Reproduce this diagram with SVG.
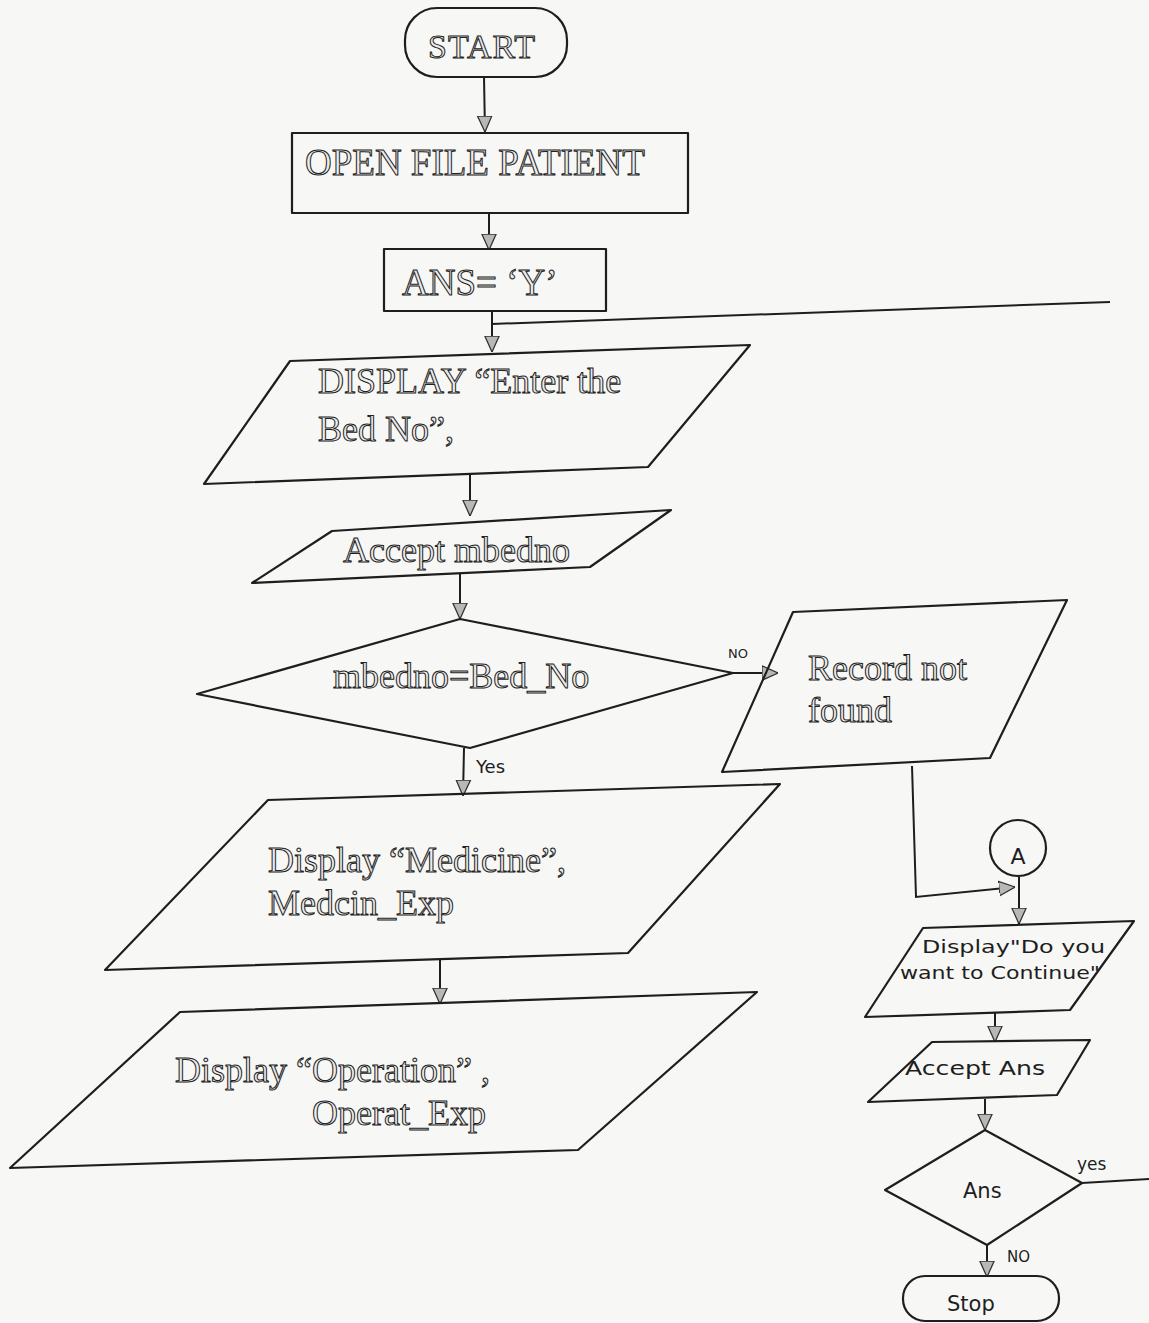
<svg xmlns="http://www.w3.org/2000/svg" width="1149" height="1323" viewBox="0 0 1149 1323">
<style>
.s{fill:none;stroke:#1e1e1e;stroke-width:2.2;stroke-linejoin:round}
.c{fill:none;stroke:#1e1e1e;stroke-width:2}
.t{font-family:"Liberation Serif","Times New Roman",serif;fill:#ececec;stroke:#222;stroke-width:1}
.h{font-family:"DejaVu Sans","Liberation Sans",sans-serif;fill:#1e1e1e}
</style>
<defs>
<marker id="ar" viewBox="0 0 10 10" refX="10" refY="5" markerUnits="userSpaceOnUse" markerWidth="16" markerHeight="18" orient="auto">
<path d="M0,0.5 L10,5 L0,9.5 Z" fill="#b8b8b8" stroke="#333" stroke-width="0.8"/>
</marker>
</defs>
<rect width="1149" height="1323" fill="#f7f7f5"/>
<g id="connectors">
<line class="c" x1="484" y1="77" x2="485" y2="132" marker-end="url(#ar)"/>
<line class="c" x1="489" y1="212" x2="489" y2="250" marker-end="url(#ar)"/>
<line class="c" x1="492" y1="311" x2="492" y2="352" marker-end="url(#ar)"/>
<line class="c" x1="492" y1="324" x2="1110" y2="302"/>
<line class="c" x1="470" y1="474" x2="470" y2="516" marker-end="url(#ar)"/>
<line class="c" x1="460" y1="573" x2="460" y2="619" marker-end="url(#ar)"/>
<line class="c" x1="464" y1="748" x2="463" y2="796" marker-end="url(#ar)"/>
<line class="c" x1="733" y1="673" x2="778" y2="673" marker-end="url(#ar)"/>
<line class="c" x1="440" y1="959" x2="440" y2="1004" marker-end="url(#ar)"/>
<polyline class="c" points="912,766 916,897 1015,887" marker-end="url(#ar)"/>
<line class="c" x1="1019" y1="877" x2="1019" y2="924" marker-end="url(#ar)"/>
<line class="c" x1="995" y1="1012" x2="995" y2="1042" marker-end="url(#ar)"/>
<line class="c" x1="985" y1="1099" x2="985" y2="1130" marker-end="url(#ar)"/>
<line class="c" x1="1082" y1="1183" x2="1149" y2="1179"/>
<line class="c" x1="987" y1="1245" x2="987" y2="1277" marker-end="url(#ar)"/>
<text class="h" x="476" y="773" font-size="18">Yes</text>
<text class="h" x="728" y="658" font-size="13">NO</text>
<text class="h" x="1077" y="1170" font-size="17">yes</text>
<text class="h" x="1007" y="1262" font-size="15">NO</text>
</g>
<g id="start">
<rect class="s" x="405" y="8" width="162" height="69" rx="32"/>
<text class="t" x="428" y="58" font-size="34" letter-spacing="1">START</text>
</g>
<g id="open-file">
<rect class="s" x="292" y="133" width="396" height="80"/>
<text class="t" x="305" y="175" font-size="37">OPEN FILE PATIENT</text>
</g>
<g id="ans-init">
<rect class="s" x="384" y="249" width="222" height="62"/>
<text class="t" x="402" y="295" font-size="37">ANS= ‘Y’</text>
</g>
<g id="display-bed">
<polygon class="s" points="290,361 750,345 648,467 204,484"/>
<text class="t" x="318" y="393" font-size="36">DISPLAY “Enter the</text>
<text class="t" x="318" y="441" font-size="36">Bed No”,</text>
</g>
<g id="accept-bed">
<polygon class="s" points="332,531 671,510 590,567 252,583"/>
<text class="t" x="343" y="562" font-size="36">Accept mbedno</text>
</g>
<g id="decision-bed">
<polygon class="s" points="460,619 733,673 470,748 197,694"/>
<text class="t" x="333" y="688" font-size="36">mbedno=Bed_No</text>
</g>
<g id="record-not-found">
<polygon class="s" points="793,612 1067,600 990,758 722,772"/>
<text class="t" x="808" y="680" font-size="36">Record not</text>
<text class="t" x="808" y="722" font-size="36">found</text>
</g>
<g id="display-medicine">
<polygon class="s" points="268,800 780,784 628,953 105,970"/>
<text class="t" x="268" y="872" font-size="36">Display “Medicine”,</text>
<text class="t" x="268" y="915" font-size="36">Medcin_Exp</text>
</g>
<g id="display-operation">
<polygon class="s" points="180,1012 757,992 578,1150 10,1168"/>
<text class="t" x="175" y="1082" font-size="36">Display “Operation” ,</text>
<text class="t" x="312" y="1125" font-size="36">Operat_Exp</text>
</g>
<g id="connector-a">
<circle class="s" cx="1018" cy="848" r="28"/>
<text class="h" x="1018" y="864" font-size="22" text-anchor="middle">A</text>
</g>
<g id="display-continue">
<polygon class="s" points="923,928 1134,921 1070,1010 865,1017"/>
<text class="h" x="922" y="953" font-size="18" textLength="183" lengthAdjust="spacingAndGlyphs">Display"Do you</text>
<text class="h" x="900" y="979" font-size="18" textLength="200" lengthAdjust="spacingAndGlyphs">want to Continue"</text>
</g>
<g id="accept-ans">
<polygon class="s" points="932,1042 1090,1040 1057,1095 868,1102"/>
<text class="h" x="905" y="1075" font-size="20" textLength="140" lengthAdjust="spacingAndGlyphs">Accept  Ans</text>
</g>
<g id="decision-ans">
<polygon class="s" points="985,1130 1082,1183 987,1245 885,1190"/>
<text class="h" x="963" y="1198" font-size="21">Ans</text>
</g>
<g id="stop">
<rect class="s" x="903" y="1276" width="156" height="45" rx="22"/>
<text class="h" x="947" y="1311" font-size="21">Stop</text>
</g>
</svg>
